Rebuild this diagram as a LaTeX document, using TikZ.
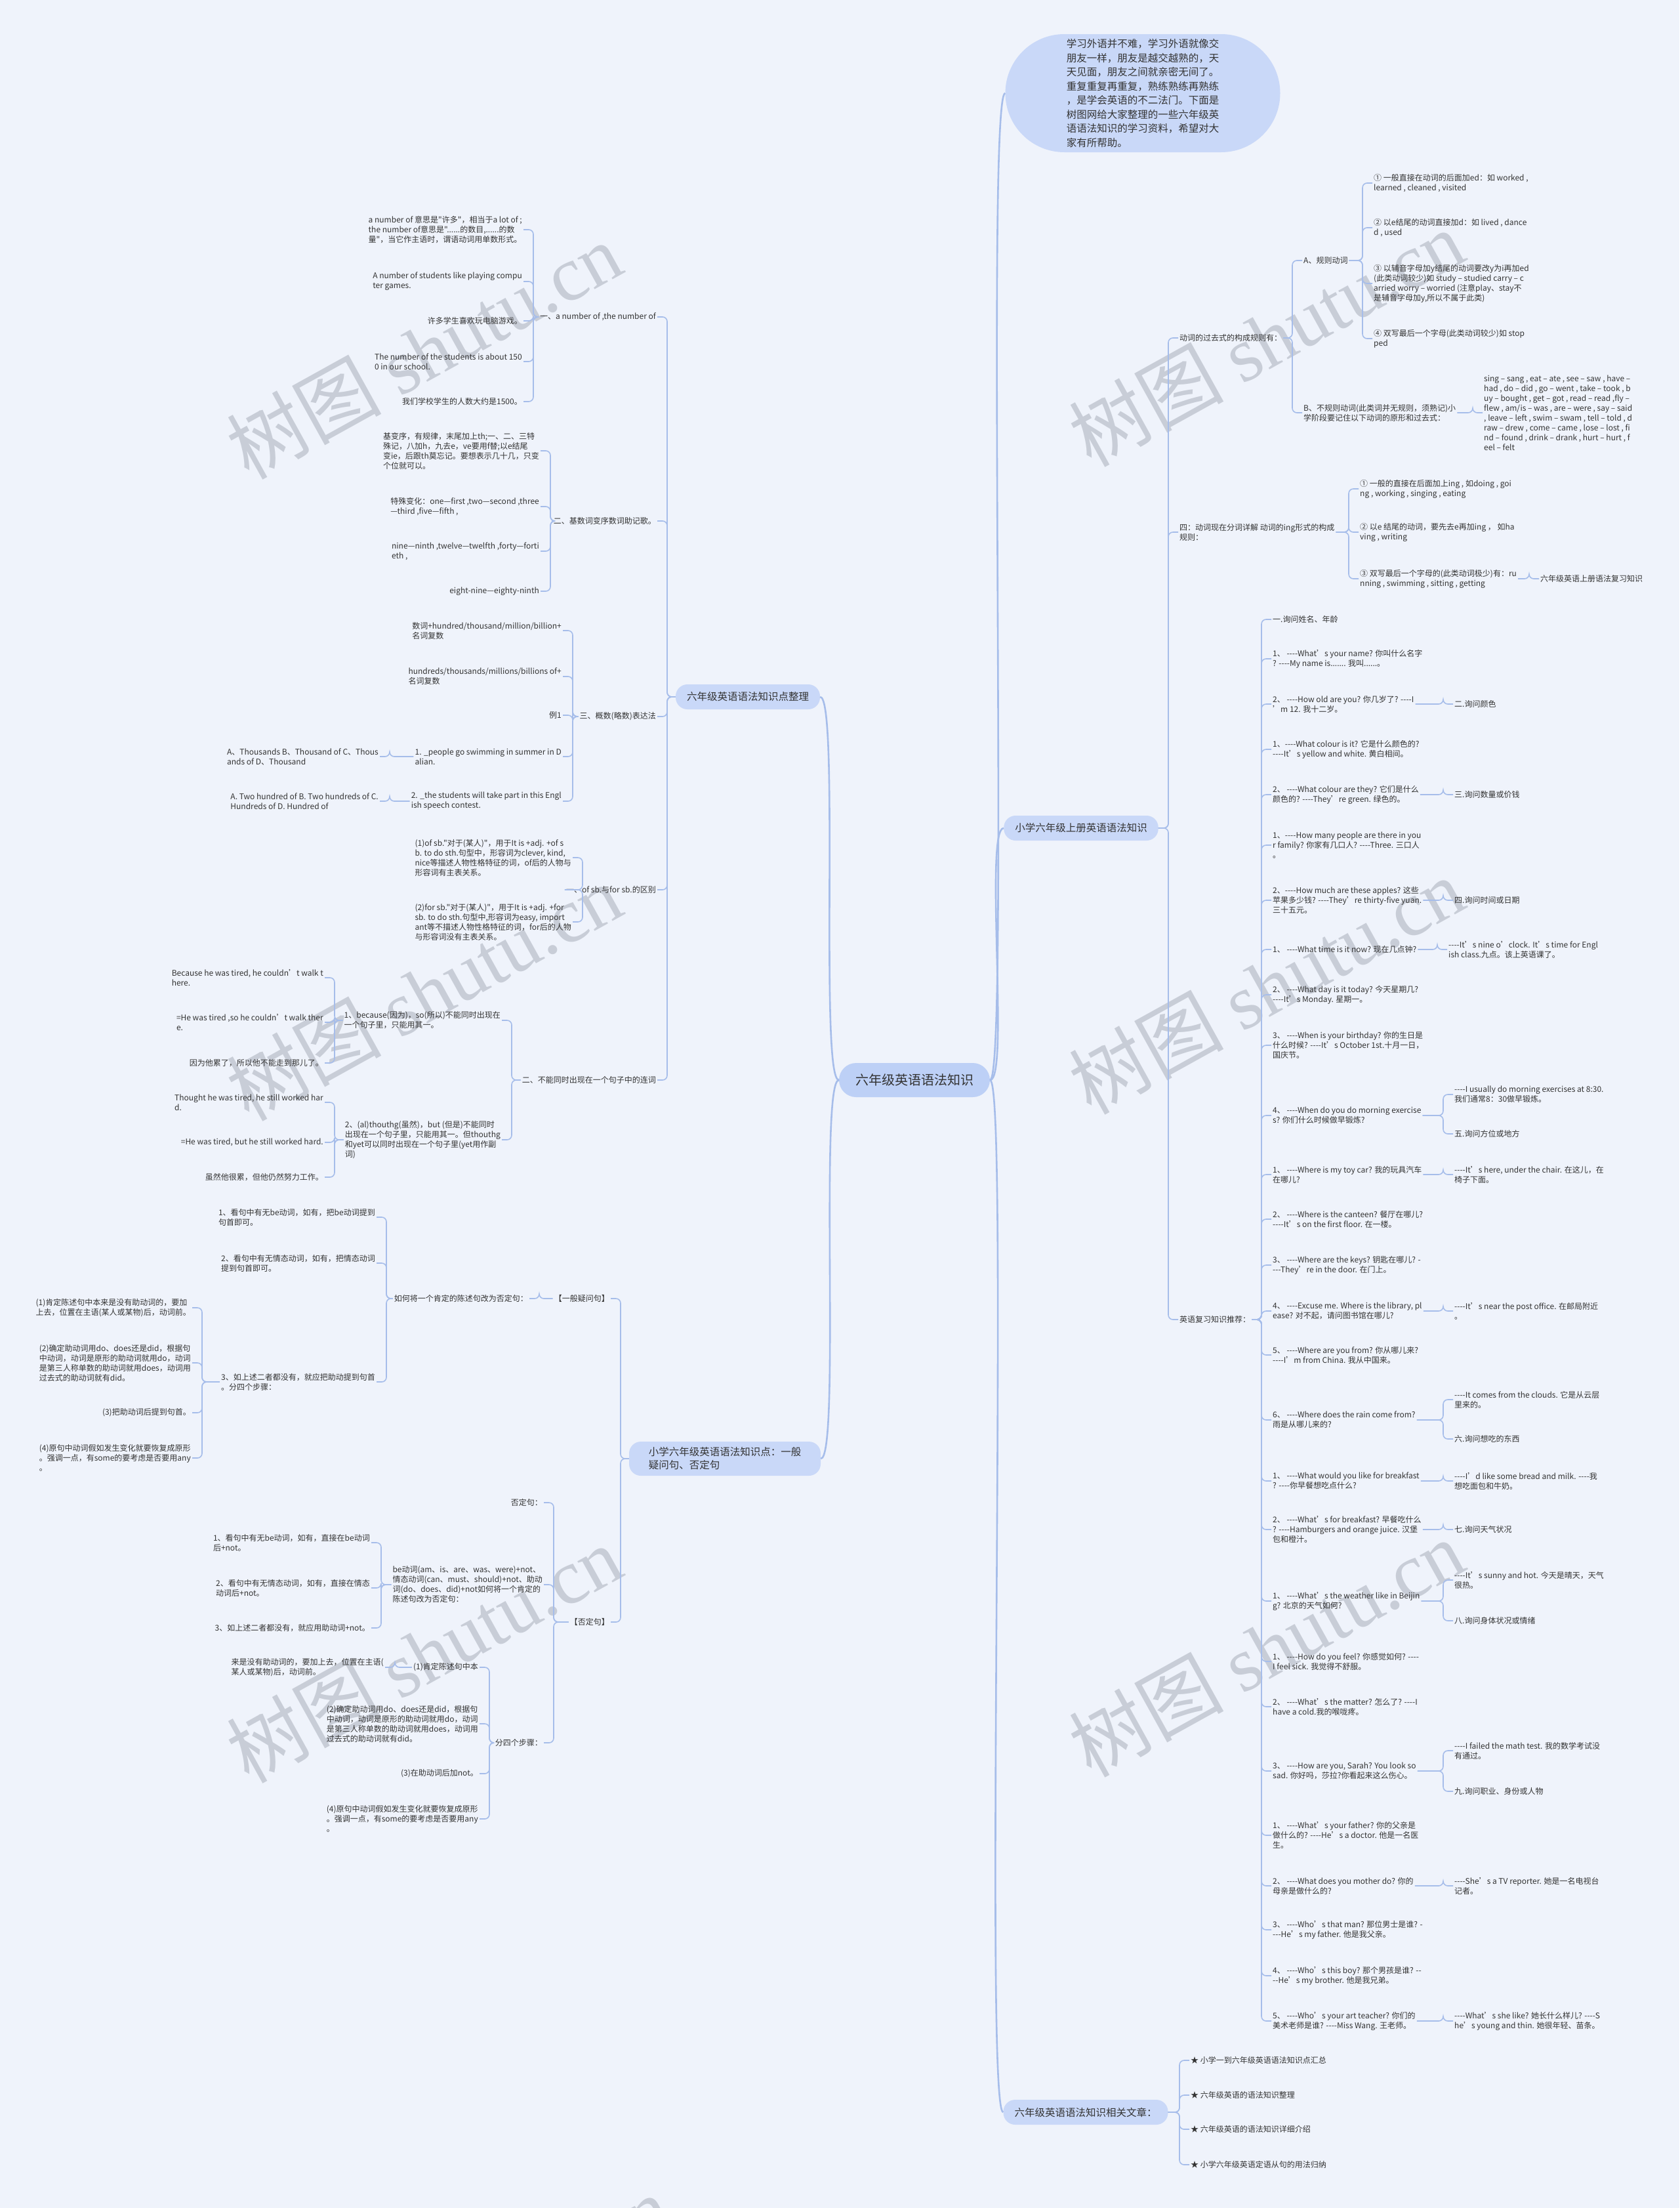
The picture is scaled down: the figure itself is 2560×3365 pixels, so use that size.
\documentclass[tikz,border=0pt]{standalone}
\usepackage{fontspec}
\setmainfont{Noto Sans CJK SC}[Ligatures=TeXOff]
\newfontfamily\wmfont{Liberation Serif}
\usepackage{tikz}
\usetikzlibrary{calc}
\definecolor{bgfill}{HTML}{EFF3FB}
\definecolor{linkdraw}{HTML}{A6BDEA}
\definecolor{topfill}{HTML}{C9D8F8}
\definecolor{hubfill}{HTML}{BDD0F6}
\definecolor{txt}{HTML}{333333}
\definecolor{wmgray}{HTML}{C8CDD7}
\tikzset{
  leaf/.style={inner sep=2pt, align=left, font=\fontsize{12}{15}\selectfont, text=txt},
  rleaf/.style={leaf, anchor=west},
  lleaf/.style={leaf, anchor=east},
  topic/.style={rectangle, rounded corners=18pt, fill=topfill, inner xsep=17pt, inner ysep=0pt, minimum height=38pt, align=center, font=\fontsize{15.5}{20}\selectfont, text=txt},
  hub/.style={topic, fill=hubfill, minimum width=230pt, minimum height=52pt, rounded corners=26pt, font=\fontsize{20}{24}\selectfont},
  link/.style={draw=linkdraw, line width=1.6pt, rounded corners=7pt},
  trunk/.style={draw=linkdraw, line width=2.6pt},
  wmark/.style={text=wmgray, rotate=29, font=\fontsize{118}{118}\selectfont},
}
\newcommand\rlink[2]{\draw[link] (#1.east) -| ($(#2.west)+(-15,0)$) -- (#2.west);}
\newcommand\llink[2]{\draw[link] (#1.west) -| ($(#2.east)+(15,0)$) -- (#2.east);}

\begin{document}
\begin{tikzpicture}[x=1pt, y=-1pt]
  \fill[bgfill] (0,0) rectangle (2560,3365);
  \useasboundingbox (0,0) rectangle (2560,3365);
  % watermarks
  \foreach \wx/\wy in {646/534, 1930/515, 646/1512, 1930/1502, 646/2520, 1930/2511, 720/3510}
    \node[wmark] at (\wx,\wy) {树图 {\wmfont shutu.cn}};

  % centre and main topics
  \node[hub] (root) at (1394,1646) {六年级英语语法知识};
  \node[topic, rounded corners=90pt, minimum width=419pt, minimum height=180pt, align=left, font=\fontsize{15.5}{21.5}\selectfont] (intro) at (1742,142) {学习外语并不难，学习外语就像交\\朋友一样，朋友是越交越熟的，天\\天见面，朋友之间就亲密无间了。\\重复重复再重复，熟练熟练再熟练\\，是学会英语的不二法门。下面是\\树图网给大家整理的一些六年级英\\语语法知识的学习资料，希望对大\\家有所帮助。};
  \node[topic] (upper) at (1648,1262) {小学六年级上册英语语法知识};
  \node[topic] (related) at (1655,3219) {六年级英语语法知识相关文章：};
  \node[topic] (sort) at (1140,1062) {六年级英语语法知识点整理};
  \node[topic, minimum width=292pt, minimum height=52pt, align=left] (quest) at (1105,2223) {小学六年级英语语法知识点：一般\\疑问句、否定句};

  \draw[trunk] (root.east) .. controls +(30,0) and +(-30,0) .. (intro.west);
  \draw[trunk] (root.east) .. controls +(30,0) and +(-30,0) .. (upper.west);
  \draw[trunk] (root.east) .. controls +(30,0) and +(-30,0) .. (related.west);
  \draw[trunk] (root.west) .. controls +(-30,0) and +(30,0) .. (sort.east);
  \draw[trunk] (root.west) .. controls +(-30,0) and +(30,0) .. (quest.east);

  % right: verb forms
  \node[rleaf] (past) at (1796,515) {动词的过去式的构成规则有：};
  \node[rleaf] (ing) at (1796,811) {四：动词现在分词详解 动词的ing形式的构成\\规则：};
  \node[rleaf] (rec) at (1796,2011) {英语复习知识推荐：};
  \node[rleaf] (pa) at (1985,397) {A、规则动词};
  \node[rleaf] (pb) at (1985,629) {B、不规则动词(此类词并无规则，须熟记)小\\学阶段要记住以下动词的原形和过去式：};
  \node[rleaf] (pa1) at (2092,279) {① 一般直接在动词的后面加ed：如 worked ,\\ learned , cleaned , visited};
  \node[rleaf] (pa2) at (2092,347) {② 以e结尾的动词直接加d：如 lived , dance\\d , used};
  \node[rleaf] (pa3) at (2092,432) {③ 以辅音字母加y结尾的动词要改y为i再加ed\\(此类动词较少)如 study – studied carry – c\\arried worry – worried (注意play、stay不\\是辅音字母加y,所以不属于此类)};
  \node[rleaf] (pa4) at (2092,516) {④ 双写最后一个字母(此类动词较少)如 stop\\ped};
  \node[rleaf] (irr) at (2260,629) {sing – sang , eat – ate , see – saw , have –\\had , do – did , go – went , take – took , b\\uy – bought , get – got , read – read ,fly –\\flew , am/is – was , are – were , say – said\\, leave – left , swim – swam , tell – told , d\\raw – drew , come – came , lose – lost , fi\\nd – found , drink – drank , hurt – hurt , f\\eel – felt};
  \node[rleaf] (ig1) at (2071,745) {① 一般的直接在后面加上ing , 如doing , goi\\ng , working , singing , eating};
  \node[rleaf] (ig2) at (2071,811) {② 以e 结尾的动词，要先去e再加ing ， 如ha\\ving , writing};
  \node[rleaf] (ig3) at (2071,882) {③ 双写最后一个字母的(此类动词极少)有：ru\\nning , swimming , sitting , getting};
  \node[rleaf] (ig3a) at (2346,882) {六年级英语上册语法复习知识};

  % right: questions and answers
  \node[rleaf] (q1) at (1938,944) {一.询问姓名、年龄};
  \node[rleaf] (q2) at (1938,1004) {1、 ----What’s your name? 你叫什么名字\\? ----My name is....... 我叫......。};
  \node[rleaf] (q3) at (1938,1073) {2、 ----How old are you? 你几岁了? ----I\\’m 12. 我十二岁。};
  \node[rleaf] (q4) at (1938,1142) {1、----What colour is it? 它是什么颜色的?\\----It’s yellow and white. 黄白相间。};
  \node[rleaf] (q5) at (1938,1211) {2、 ----What colour are they? 它们是什么\\颜色的? ----They’re green. 绿色的。};
  \node[rleaf] (q6) at (1938,1288) {1、----How many people are there in you\\r family? 你家有几口人? ----Three. 三口人\\。};
  \node[rleaf] (q7) at (1938,1372) {2、----How much are these apples? 这些\\苹果多少钱? ----They’re thirty-five yuan.\\三十五元。};
  \node[rleaf] (q8) at (1938,1447) {1、 ----What time is it now? 现在几点钟?};
  \node[rleaf] (q9) at (1938,1516) {2、 ----What day is it today? 今天星期几?\\----It’s Monday. 星期一。};
  \node[rleaf] (q10) at (1938,1593) {3、 ----When is your birthday? 你的生日是\\什么时候? ----It’s October 1st.十月一日，\\国庆节。};
  \node[rleaf] (q11) at (1938,1700) {4、 ----When do you do morning exercise\\s? 你们什么时候做早锻炼?};
  \node[rleaf] (q12) at (1938,1790) {1、 ----Where is my toy car? 我的玩具汽车\\在哪儿?};
  \node[rleaf] (q13) at (1938,1858) {2、 ----Where is the canteen? 餐厅在哪儿?\\----It’s on the first floor. 在一楼。};
  \node[rleaf] (q14) at (1938,1928) {3、 ----Where are the keys? 钥匙在哪儿? -\\---They’re in the door. 在门上。};
  \node[rleaf] (q15) at (1938,1998) {4、 ----Excuse me. Where is the library, pl\\ease? 对不起，请问图书馆在哪儿?};
  \node[rleaf] (q16) at (1938,2065) {5、 ----Where are you from? 你从哪儿来?\\----I’m from China. 我从中国来。};
  \node[rleaf] (q17) at (1938,2164) {6、 ----Where does the rain come from?\\雨是从哪儿来的?};
  \node[rleaf] (q18) at (1938,2257) {1、 ----What would you like for breakfast\\? ----你早餐想吃点什么?};
  \node[rleaf] (q19) at (1938,2331) {2、 ----What’s for breakfast? 早餐吃什么\\? ----Hamburgers and orange juice. 汉堡\\包和橙汁。};
  \node[rleaf] (q20) at (1938,2440) {1、 ----What’s the weather like in Beijin\\g? 北京的天气如何?};
  \node[rleaf] (q21) at (1938,2532) {1、 ----How do you feel? 你感觉如何? ----\\I feel sick. 我觉得不舒服。};
  \node[rleaf] (q22) at (1938,2601) {2、 ----What’s the matter? 怎么了? ----I\\have a cold.我的喉咙疼。};
  \node[rleaf] (q23) at (1938,2699) {3、 ----How are you, Sarah? You look so\\sad. 你好吗，莎拉?你看起来这么伤心。};
  \node[rleaf] (q24) at (1938,2797) {1、 ----What’s your father? 你的父亲是\\做什么的? ----He’s a doctor. 他是一名医\\生。};
  \node[rleaf] (q25) at (1938,2874) {2、 ----What does you mother do? 你的\\母亲是做什么的?};
  \node[rleaf] (q26) at (1938,2941) {3、 ----Who’s that man? 那位男士是谁? -\\---He’s my father. 他是我父亲。};
  \node[rleaf] (q27) at (1938,3011) {4、 ----Who’s this boy? 那个男孩是谁? --\\--He’s my brother. 他是我兄弟。};
  \node[rleaf] (q28) at (1938,3080) {5、 ----Who’s your art teacher? 你们的\\美术老师是谁? ----Miss Wang. 王老师。};

  \node[rleaf] (s3) at (2215,1073) {二.询问颜色};
  \node[rleaf] (s5) at (2215,1211) {三.询问数量或价钱};
  \node[rleaf] (s7) at (2215,1372) {四.询问时间或日期};
  \node[rleaf] (s8) at (2206,1447) {----It’s nine o’clock. It’s time for Engl\\ish class.九点。该上英语课了。};
  \node[rleaf] (s11a) at (2215,1668) {----I usually do morning exercises at 8:30.\\我们通常8：30做早锻炼。};
  \node[rleaf] (s11b) at (2215,1728) {五.询问方位或地方};
  \node[rleaf] (s12) at (2215,1790) {----It’s here, under the chair. 在这儿，在\\椅子下面。};
  \node[rleaf] (s15) at (2215,1998) {----It’s near the post office. 在邮局附近\\。};
  \node[rleaf] (s17a) at (2215,2133) {----It comes from the clouds. 它是从云层\\里来的。};
  \node[rleaf] (s17b) at (2215,2193) {六.询问想吃的东西};
  \node[rleaf] (s18) at (2215,2257) {----I’d like some bread and milk. ----我\\想吃面包和牛奶。};
  \node[rleaf] (s19) at (2215,2331) {七.询问天气状况};
  \node[rleaf] (s20a) at (2215,2408) {----It’s sunny and hot. 今天是晴天，天气\\很热。};
  \node[rleaf] (s20b) at (2215,2470) {八.询问身体状况或情绪};
  \node[rleaf] (s23a) at (2215,2668) {----I failed the math test. 我的数学考试没\\有通过。};
  \node[rleaf] (s23b) at (2215,2730) {九.询问职业、身份或人物};
  \node[rleaf] (s25) at (2215,2874) {----She’s a TV reporter. 她是一名电视台\\记者。};
  \node[rleaf] (s28) at (2215,3080) {----What’s she like? 她长什么样儿? ----S\\he’s young and thin. 她很年轻、苗条。};

  % right: related articles
  \node[rleaf] (art1) at (1813,3140) {★ 小学一到六年级英语语法知识点汇总};
  \node[rleaf] (art2) at (1813,3193) {★ 六年级英语的语法知识整理};
  \node[rleaf] (art3) at (1813,3245) {★ 六年级英语的语法知识详细介绍};
  \node[rleaf] (art4) at (1813,3299) {★ 小学六年级英语定语从句的用法归纳};

  % left: grammar points
  \node[lleaf] (nA) at (1002,483) {一、a number of ,the number of};
  \node[lleaf] (nB) at (1002,794) {二、基数词变序数词助记歌。};
  \node[lleaf] (nC) at (1002,1092) {三、概数(略数)表达法};
  \node[lleaf] (nD) at (1002,1356) {一、of sb.与for sb.的区别};
  \node[lleaf] (nE) at (1002,1646) {二、不能同时出现在一个句子中的连词};

  \node[lleaf] (nA1) at (798,350) {a number of 意思是"许多"，相当于a lot of ;\\the number of意思是"......的数目,......的数\\量"，当它作主语时，谓语动词用单数形式。};
  \node[lleaf] (nA2) at (798,429) {A number of students like playing compu\\ter games.};
  \node[lleaf] (nA3) at (798,489) {许多学生喜欢玩电脑游戏。};
  \node[lleaf] (nA4) at (798,551) {The number of the students is about 150\\0 in our school.};
  \node[lleaf] (nA5) at (798,612) {我们学校学生的人数大约是1500。};

  \node[lleaf] (nB1) at (824,687) {基变序，有规律，末尾加上th;一、二、三特\\殊记，八加h，九去e，ve要用f替;以e结尾\\变ie，后跟th莫忘记。要想表示几十几，只变\\个位就可以。};
  \node[lleaf] (nB2) at (824,772) {特殊变化：one—first ,two—second ,three\\—third ,five—fifth ,};
  \node[lleaf] (nB3) at (824,840) {nine—ninth ,twelve—twelfth ,forty—forti\\eth ,};
  \node[lleaf] (nB4) at (824,901) {eight-nine—eighty-ninth};

  \node[lleaf] (nC1) at (858,961) {数词+hundred/thousand/million/billion+\\名词复数};
  \node[lleaf] (nC2) at (858,1031) {hundreds/thousands/millions/billions of+\\名词复数};
  \node[lleaf] (nC3) at (858,1090) {例1};
  \node[lleaf] (nC4) at (858,1153) {1. \_people go swimming in summer in D\\alian.};
  \node[lleaf] (nC5) at (858,1221) {2. \_the students will take part in this Engl\\ish speech contest.};
  \node[lleaf] (opt1) at (579,1153) {A、Thousands B、Thousand of C、Thous\\ands of D、Thousand};
  \node[lleaf] (opt2) at (579,1221) {A. Two hundred of B. Two hundreds of C.\\Hundreds of D. Hundred of};

  \node[lleaf] (nD1) at (873,1307) {(1)of sb."对于(某人)"，用于It is +adj. +of s\\b. to do sth.句型中，形容词为clever, kind,\\nice等描述人物性格特征的词，of后的人物与\\形容词有主表关系。};
  \node[lleaf] (nD2) at (873,1405) {(2)for sb."对于(某人)"，用于It is +adj. +for\\sb. to do sth.句型中,形容词为easy, import\\ant等不描述人物性格特征的词，for后的人物\\与形容词没有主表关系。};

  \node[lleaf] (nE1) at (765,1555) {1、because(因为)，so(所以)不能同时出现在\\一个句子里，只能用其一。};
  \node[lleaf] (nE2) at (765,1737) {2、(al)thouthg(虽然)，but (但是)不能同时\\出现在一个句子里，只能用其一。但thouthg\\和yet可以同时出现在一个句子里(yet用作副\\词)};
  \node[lleaf] (becA) at (495,1490) {Because he was tired, he couldn’t walk t\\here.};
  \node[lleaf] (becB) at (495,1558) {=He was tired ,so he couldn’t walk ther\\e.};
  \node[lleaf] (becC) at (495,1620) {因为他累了，所以他不能走到那儿了。};
  \node[lleaf] (thoA) at (495,1680) {Thought he was tired, he still worked har\\d.};
  \node[lleaf] (thoB) at (495,1741) {=He was tired, but he still worked hard.};
  \node[lleaf] (thoC) at (495,1794) {虽然他很累，但他仍然努力工作。};

  % left: questions and negatives
  \node[lleaf] (yes) at (931,1979) {【一般疑问句】};
  \node[lleaf] (neg) at (931,2472) {【否定句】};
  \node[lleaf] (yesq) at (807,1979) {如何将一个肯定的陈述句改为否定句：};
  \node[lleaf] (yq1) at (574,1855) {1、看句中有无be动词，如有，把be动词提到\\句首即可。};
  \node[lleaf] (yq2) at (574,1925) {2、看句中有无情态动词，如有，把情态动词\\提到句首即可。};
  \node[lleaf] (yq3) at (574,2106) {3、如上述二者都没有，就应把助动提到句首\\。分四个步骤：};
  \node[lleaf] (ys1) at (293,1993) {(1)肯定陈述句中本来是没有助动词的，要加\\上去，位置在主语(某人或某物)后，动词前。};
  \node[lleaf] (ys2) at (293,2077) {(2)确定助动词用do、does还是did，根据句\\中动词，动词是原形的助动词就用do，动词\\是第三人称单数的助动词就用does，动词用\\过去式的助动词就有did。};
  \node[lleaf] (ys3) at (293,2153) {(3)把助动词后提到句首。};
  \node[lleaf] (ys4) at (293,2222) {(4)原句中动词假如发生变化就要恢复成原形\\。强调一点，有some的要考虑是否要用any\\。};

  \node[lleaf] (ng1) at (829,2290) {否定句：};
  \node[lleaf] (ng2) at (829,2415) {be动词(am、is、are、was、were)+not、\\情态动词(can、must、should)+not、助动\\词(do、does、did)+not如何将一个肯定的\\陈述句改为否定句：};
  \node[lleaf] (ng3) at (829,2656) {分四个步骤：};
  \node[lleaf] (nb1) at (566,2351) {1、看句中有无be动词，如有，直接在be动词\\后+not。};
  \node[lleaf] (nb2) at (566,2420) {2、看句中有无情态动词，如有，直接在情态\\动词后+not。};
  \node[lleaf] (nb3) at (566,2481) {3、如上述二者都没有，就应用助动词+not。};
  \node[lleaf] (ns1) at (731,2541) {(1)肯定陈述句中本};
  \node[lleaf] (ns1a) at (587,2541) {来是没有助动词的，要加上去，位置在主语(\\某人或某物)后，动词前。};
  \node[lleaf] (ns2) at (731,2627) {(2)确定助动词用do、does还是did，根据句\\中动词，动词是原形的助动词就用do，动词\\是第三人称单数的助动词就用does，动词用\\过去式的助动词就有did。};
  \node[lleaf] (ns3) at (731,2703) {(3)在助动词后加not。};
  \node[lleaf] (ns4) at (731,2772) {(4)原句中动词假如发生变化就要恢复成原形\\。强调一点，有some的要考虑是否要用any\\。};

  % connectors, right
  \foreach \c in {past,ing,rec} {\rlink{upper}{\c}}
  \foreach \c in {pa,pb} {\rlink{past}{\c}}
  \foreach \c in {pa1,pa2,pa3,pa4} {\rlink{pa}{\c}}
  \rlink{pb}{irr}
  \foreach \c in {ig1,ig2,ig3} {\rlink{ing}{\c}}
  \rlink{ig3}{ig3a}
  \foreach \i in {1,...,28} {\rlink{rec}{q\i}}
  \foreach \p/\c in {q3/s3, q5/s5, q7/s7, q8/s8, q11/s11a, q11/s11b, q12/s12, q15/s15, q17/s17a, q17/s17b, q18/s18, q19/s19, q20/s20a, q20/s20b, q23/s23a, q23/s23b, q25/s25, q28/s28} {\rlink{\p}{\c}}
  \foreach \i in {1,...,4} {\rlink{related}{art\i}}

  % connectors, left
  \foreach \c in {nA,nB,nC,nD,nE} {\llink{sort}{\c}}
  \foreach \i in {1,...,5} {\llink{nA}{nA\i}}
  \foreach \i in {1,...,4} {\llink{nB}{nB\i}}
  \foreach \i in {1,...,5} {\llink{nC}{nC\i}}
  \llink{nC4}{opt1}
  \llink{nC5}{opt2}
  \foreach \i in {1,2} {\llink{nD}{nD\i}}
  \foreach \i in {1,2} {\llink{nE}{nE\i}}
  \foreach \c in {becA,becB,becC} {\llink{nE1}{\c}}
  \foreach \c in {thoA,thoB,thoC} {\llink{nE2}{\c}}
  \foreach \c in {yes,neg} {\llink{quest}{\c}}
  \llink{yes}{yesq}
  \foreach \c in {yq1,yq2,yq3} {\llink{yesq}{\c}}
  \foreach \c in {ys1,ys2,ys3,ys4} {\llink{yq3}{\c}}
  \foreach \c in {ng1,ng2,ng3} {\llink{neg}{\c}}
  \foreach \c in {nb1,nb2,nb3} {\llink{ng2}{\c}}
  \foreach \c in {ns1,ns2,ns3,ns4} {\llink{ng3}{\c}}
  \llink{ns1}{ns1a}
\end{tikzpicture}
\end{document}
